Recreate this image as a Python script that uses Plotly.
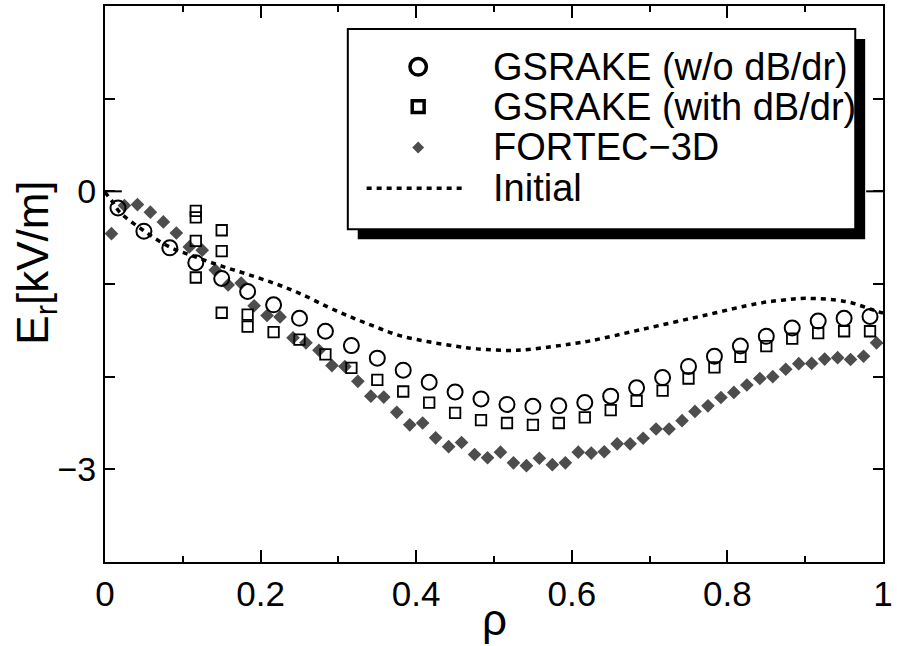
import plotly.graph_objects as go

# Radial electric field profiles E_r(rho)

# GSRAKE without dB/dr (open circles)
rho_gs = [0.0167, 0.05, 0.0833, 0.1167, 0.15, 0.1833, 0.2167, 0.25, 0.2833, 0.3167,
          0.35, 0.3833, 0.4167, 0.45, 0.4833, 0.5167, 0.55, 0.5833, 0.6167, 0.65,
          0.6833, 0.7167, 0.75, 0.7833, 0.8167, 0.85, 0.8833, 0.9167, 0.95, 0.9833]
er_gs_nodb = [-0.18, -0.43, -0.61, -0.77, -0.94, -1.08, -1.225, -1.37, -1.51, -1.665,
              -1.80, -1.93, -2.06, -2.165, -2.24, -2.30, -2.32, -2.315, -2.28, -2.21,
              -2.12, -2.01, -1.89, -1.78, -1.67, -1.565, -1.475, -1.40, -1.37, -1.35]

# GSRAKE with dB/dr (open squares); several roots near the axis
rho_gs_db = [0.1167, 0.1167, 0.1167, 0.1167, 0.15, 0.15, 0.15, 0.1833, 0.1833,
             0.2167, 0.25, 0.2833, 0.3167, 0.35, 0.3833, 0.4167, 0.45, 0.4833, 0.5167,
             0.55, 0.5833, 0.6167, 0.65, 0.6833, 0.7167, 0.75, 0.7833, 0.8167, 0.85,
             0.8833, 0.9167, 0.95, 0.9833]
er_gs_db = [-0.21, -0.28, -0.535, -0.93, -0.42, -0.645, -1.31, -1.33, -1.46,
            -1.52, -1.60, -1.76, -1.905, -2.035, -2.16, -2.28, -2.39, -2.47, -2.50,
            -2.52, -2.50, -2.44, -2.36, -2.26, -2.15, -2.02, -1.90, -1.785, -1.67,
            -1.59, -1.53, -1.51, -1.51]

# FORTEC-3D (filled diamonds)
rho_ft = [0.0083, 0.025, 0.0417, 0.0583, 0.075, 0.0917, 0.1083, 0.125, 0.1417, 0.1583,
          0.175, 0.1917, 0.2083, 0.225, 0.2417, 0.2583, 0.275, 0.2917, 0.3083, 0.325,
          0.3417, 0.3583, 0.375, 0.3917, 0.4083, 0.425, 0.4417, 0.4583, 0.475, 0.4917,
          0.5083, 0.525, 0.5417, 0.5583, 0.575, 0.5917, 0.6083, 0.625, 0.6417, 0.6583,
          0.675, 0.6917, 0.7083, 0.725, 0.7417, 0.7583, 0.775, 0.7917, 0.8083, 0.825,
          0.8417, 0.8583, 0.875, 0.8917, 0.9083, 0.925, 0.9417, 0.9583, 0.975, 0.9917]
er_ft = [-0.457, -0.153, -0.143, -0.225, -0.33, -0.45, -0.60, -0.635, -0.85, -1.01,
         -0.99, -1.235, -1.34, -1.355, -1.58, -1.635, -1.715, -1.88, -1.89, -2.05,
         -2.21, -2.22, -2.385, -2.52, -2.50, -2.66, -2.755, -2.71, -2.84, -2.875,
         -2.815, -2.93, -2.96, -2.88, -2.95, -2.93, -2.815, -2.825, -2.81, -2.725,
         -2.725, -2.665, -2.565, -2.565, -2.475, -2.375, -2.315, -2.225, -2.17, -2.09,
         -2.02, -2.00, -1.92, -1.86, -1.857, -1.81, -1.795, -1.815, -1.78, -1.635]

# Initial profile (dotted curve)
rho_init = [0.0, 0.0085, 0.019, 0.049, 0.083, 0.117, 0.151, 0.185, 0.22, 0.25,
            0.287, 0.32, 0.35, 0.38, 0.414, 0.45, 0.478, 0.53, 0.584, 0.605,
            0.626, 0.69, 0.775, 0.839, 0.87, 0.902, 0.953, 0.987, 1.0]
er_init = [-0.01, -0.10, -0.225, -0.42, -0.60, -0.71, -0.81, -0.90, -1.00, -1.10,
           -1.25, -1.37, -1.47, -1.56, -1.62, -1.67, -1.70, -1.715, -1.665, -1.64,
           -1.61, -1.49, -1.33, -1.21, -1.175, -1.155, -1.19, -1.28, -1.315]

series_names = ["GSRAKE (w/o dB/dr)", "GSRAKE (with dB/dr)", "FORTEC\u22123D", "Initial"]

x_ticks = [0, 0.2, 0.4, 0.6, 0.8, 1.0]
x_ticktext = ["0", "0.2", "0.4", "0.6", "0.8", "1"]
y_ticks = [-3, 0]
y_ticktext = ["\u22123", "0"]

FONT = "Liberation Sans, Arial, Helvetica, sans-serif"
DIAMOND_GRAY = "#4d4d4d"

# plot area in pixels (figure 897 x 646)
L, R, T, B = 105, 890, 4, 562


def px(x):
    return (x - L) / (R - L)


def py(y):
    return (B - y) / (B - T)


fig = go.Figure()

fig.add_trace(go.Scatter(
    x=rho_ft, y=er_ft, mode="markers", name=series_names[2],
    marker=dict(symbol="diamond", size=10.5, color=DIAMOND_GRAY, line=dict(width=0)),
))
fig.add_trace(go.Scatter(
    x=rho_gs_db, y=er_gs_db, mode="markers", name=series_names[1],
    marker=dict(symbol="square-open", size=10.5, color="black", line=dict(width=1.8)),
))
fig.add_trace(go.Scatter(
    x=rho_gs, y=er_gs_nodb, mode="markers", name=series_names[0],
    marker=dict(symbol="circle-open", size=15, color="black", line=dict(width=2)),
))
fig.add_trace(go.Scatter(
    x=rho_init, y=er_init, mode="lines", name=series_names[3],
    line=dict(color="black", width=3.5, dash="5px,5px", shape="spline"),
))

axis_common = dict(
    showline=True, linecolor="black", linewidth=2, mirror="ticks",
    ticks="inside", tickcolor="black", tickwidth=2,
    showgrid=False, zeroline=False,
)

fig.update_xaxes(
    range=[0, 1], tickvals=x_ticks, ticktext=x_ticktext, ticklen=12,
    tickfont=dict(size=35, family=FONT, color="black"),
    ticklabeloverflow="allow",
    minor=dict(dtick=0.1, ticklen=6, ticks="inside", tickcolor="black", tickwidth=2),
    **axis_common,
)
fig.update_yaxes(
    range=[-4, 2], tickvals=y_ticks, ticktext=y_ticktext, ticklen=10,
    tickfont=dict(size=34, family=FONT, color="black"),
    minor=dict(tick0=0, dtick=1, ticklen=10, ticks="inside", tickcolor="black", tickwidth=2),
    **axis_common,
)

# longer tick marks at E_r = 0 on both vertical axes
for x0, x1 in [(0, 17 / (R - L)), (1 - 17 / (R - L), 1)]:
    fig.add_shape(type="line", xref="paper", yref="y", x0=x0, x1=x1, y0=0, y1=0,
                  line=dict(color="black", width=2))

# ---- legend box with drop shadow ----
box = dict(x0=350, x1=862, y0=27, y1=228)
shadow = 10
fig.add_shape(type="rect", xref="paper", yref="paper",
              x0=px(box["x0"] + shadow), x1=px(box["x1"] + shadow),
              y0=py(box["y1"] + shadow), y1=py(box["y0"] + shadow),
              fillcolor="black", line=dict(width=0), layer="above")
fig.add_shape(type="rect", xref="paper", yref="paper",
              x0=px(box["x0"]), x1=px(box["x1"]),
              y0=py(box["y1"]), y1=py(box["y0"]),
              fillcolor="white", line=dict(color="black", width=2), layer="above")

row_y = [65, 105, 146, 187]
key_x = 421
text_x = 494

# key: open circle
r_c = 8.3
fig.add_shape(type="circle", xref="paper", yref="paper",
              x0=px(key_x - r_c), x1=px(key_x + r_c),
              y0=py(row_y[0] + r_c), y1=py(row_y[0] - r_c),
              line=dict(color="black", width=3.5), layer="above")
# key: open square
h_s = 6.0
fig.add_shape(type="rect", xref="paper", yref="paper",
              x0=px(key_x - h_s), x1=px(key_x + h_s),
              y0=py(row_y[1] + h_s), y1=py(row_y[1] - h_s),
              line=dict(color="black", width=3.5), layer="above")
# key: filled diamond
h_d = 6.0
dpath = "M {a},{b} L {c},{d} L {a},{e} L {f},{d} Z".format(
    a=px(key_x), b=py(row_y[2] - h_d), c=px(key_x + h_d),
    d=py(row_y[2]), e=py(row_y[2] + h_d), f=px(key_x - h_d))
fig.add_shape(type="path", xref="paper", yref="paper", path=dpath,
              fillcolor=DIAMOND_GRAY, line=dict(width=0), layer="above")
# key: dotted line
fig.add_shape(type="line", xref="paper", yref="paper",
              x0=px(369), x1=px(468), y0=py(row_y[3]), y1=py(row_y[3]),
              line=dict(color="black", width=3.5, dash="5px,5px"), layer="above")

for name, yy in zip(series_names, row_y):
    fig.add_annotation(text=name, xref="paper", yref="paper",
                       x=px(text_x), y=py(yy), showarrow=False,
                       xanchor="left", yanchor="middle",
                       font=dict(size=38, family=FONT, color="black"))

# axis titles
fig.add_annotation(text="E<sub>r</sub>[kV/m]", xref="paper", yref="paper",
                   x=px(35), y=py(262), textangle=-90, showarrow=False,
                   xanchor="center", yanchor="middle",
                   font=dict(size=44, family=FONT, color="black"))
fig.add_annotation(text="\u03c1", xref="paper", yref="paper",
                   x=0.5, y=py(620), showarrow=False,
                   xanchor="center", yanchor="middle",
                   font=dict(size=44, family=FONT, color="black"))

fig.update_layout(
    width=897, height=646,
    margin=dict(l=L, r=897 - R, t=T, b=646 - B),
    plot_bgcolor="white", paper_bgcolor="white",
    font=dict(family=FONT, color="black"),
    showlegend=False,
)

fig.write_html("out.html")
